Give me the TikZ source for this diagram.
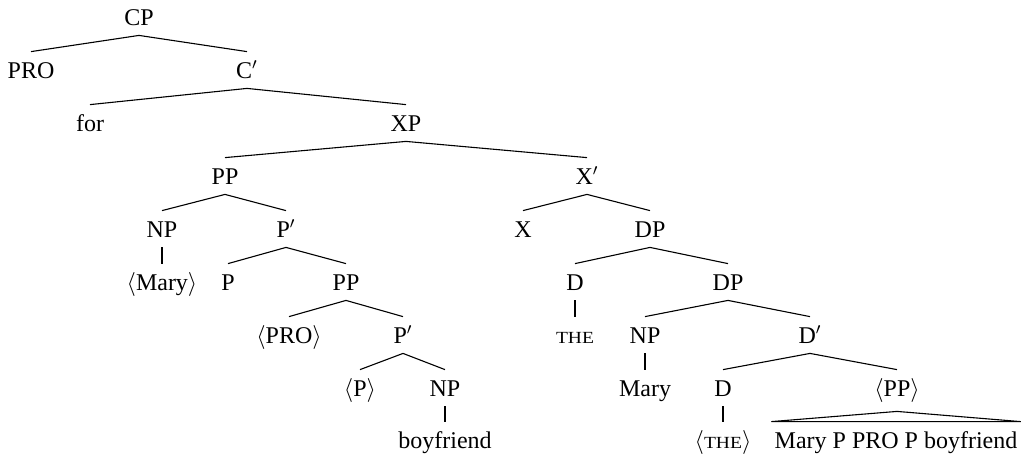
\documentclass[tikz,border=0pt,12pt]{standalone}
\usepackage{fontspec}
\setmainfont{Liberation Serif}
\usepackage{graphicx}
\newcommand{\smTHE}{\scalebox{1.15}[1]{\fontsize{8.5}{10}\selectfont THE}}
\newcommand{\ang}[1]{$\langle$#1$\rangle$}
\begin{document}
\begin{tikzpicture}[x=0.5pt,y=-0.5pt,
  lab/.style={anchor=base,inner xsep=1pt,inner ysep=3pt,text height=10pt,text depth=2pt},
  edge/.style={line width=0.55pt}]
\useasboundingbox (0,0) rectangle (1021,457);
% level y baselines
\def\La{25}\def\Lb{78}\def\Lc{131}\def\Ld{184}\def\Le{237}\def\Lf{290}\def\Lg{343}\def\Lh{396}\def\Li{448}
\node[lab] (cp) at (139,\La) {CP};
\node[lab] (pro) at (31,\Lb) {PRO};
\node[lab] (cbar) at (247,\Lb) {C$'$};
\node[lab] (for) at (90,\Lc) {for};
\node[lab] (xp) at (406,\Lc) {XP};
\node[lab] (pp1) at (225,\Ld) {PP};
\node[lab] (xbar) at (587,\Ld) {X$'$};
\node[lab] (np1) at (162,\Le) {NP};
\node[lab] (pbar1) at (286,\Le) {P$'$};
\node[lab] (x) at (523,\Le) {X};
\node[lab] (dp1) at (650,\Le) {DP};
\node[lab] (mary1) at (162,\Lf) {\ang{Mary}};
\node[lab] (p1) at (228,\Lf) {P};
\node[lab] (pp2) at (346,\Lf) {PP};
\node[lab] (d1) at (575,\Lf) {D};
\node[lab] (dp2) at (728,\Lf) {DP};
\node[lab] (pro2) at (289,\Lg) {\ang{PRO}};
\node[lab] (pbar2) at (403,\Lg) {P$'$};
\node[lab] (the1) at (575,\Lg) {\smTHE};
\node[lab] (np2) at (645,\Lg) {NP};
\node[lab] (dbar) at (810,\Lg) {D$'$};
\node[lab] (p2) at (360,\Lh) {\ang{P}};
\node[lab] (np3) at (445,\Lh) {NP};
\node[lab] (mary2) at (645,\Lh) {Mary};
\node[lab] (d2) at (723,\Lh) {D};
\node[lab] (pp3) at (897,\Lh) {\ang{PP}};
\node[lab] (boy) at (445,\Li) {boyfriend};
\node[lab] (the2) at (723,\Li) {\ang{\smTHE}};
\node[lab,inner xsep=1.5pt] (tri) at (896,\Li) {Mary P PRO P boyfriend};
\draw[edge] (pro.north) -- (cp.south) -- (cbar.north);
\draw[edge] (for.north) -- (cbar.south) -- (xp.north);
\draw[edge] (pp1.north) -- (xp.south) -- (xbar.north);
\draw[edge] (np1.north) -- (pp1.south) -- (pbar1.north);
\draw[edge] (x.north) -- (xbar.south) -- (dp1.north);
\draw[edge] (np1.south) -- (mary1.north);
\draw[edge] (p1.north) -- (pbar1.south) -- (pp2.north);
\draw[edge] (d1.north) -- (dp1.south) -- (dp2.north);
\draw[edge] (pro2.north) -- (pp2.south) -- (pbar2.north);
\draw[edge] (d1.south) -- (the1.north);
\draw[edge] (np2.north) -- (dp2.south) -- (dbar.north);
\draw[edge] (p2.north) -- (pbar2.south) -- (np3.north);
\draw[edge] (np2.south) -- (mary2.north);
\draw[edge] (d2.north) -- (dbar.south) -- (pp3.north);
\draw[edge] (np3.south) -- (boy.north);
\draw[edge] (d2.south) -- (the2.north);
\draw[edge] ([yshift=-2.5pt]pp3.south) -- (tri.north west) -- (tri.north east) -- cycle;
\end{tikzpicture}
\end{document}
